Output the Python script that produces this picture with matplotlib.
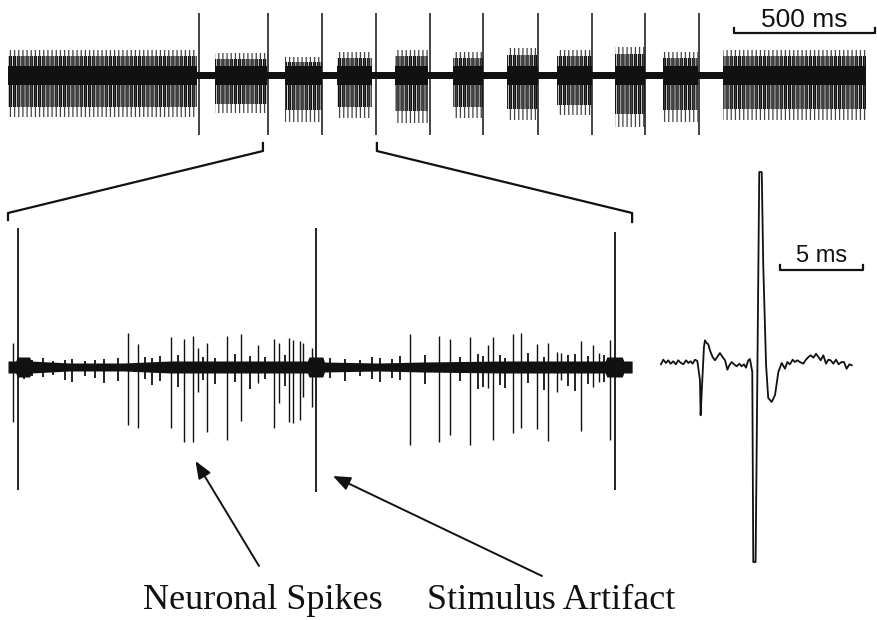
import numpy as np
import matplotlib
matplotlib.use("Agg")
import matplotlib.pyplot as plt

# ---- top trace (ms, arbitrary amplitude units) ----
top_artifact_t = [677, 922, 1113, 1305, 1496, 1684, 1879, 2071, 2259, 2450]
top_artifact_up = 62
top_artifact_down = -60
burst_start = [0, 734, 982, 1167, 1372, 1578, 1769, 1947, 2152, 2323, 2535]
burst_end = [670, 918, 1113, 1291, 1489, 1684, 1879, 2071, 2259, 2447, 3042]
burst_up = [25, 22, 18, 23, 25, 23, 27, 25, 28, 23, 25]
burst_down = [-42, -38, -47, -43, -48, -43, -45, -40, -52, -47, -45]
top_trace_end = 3042
zoom_window = (904, 1308)

# ---- zoomed trace (ms) ----
bot_artifact_t = [6.5, 199.6, 393.3]
bot_artifact_up = [139, 139, 135]
bot_artifact_down = [-123, -125, -123]
spike_t = [3.2, 77.8, 84.2, 105.6, 114.0, 119.9, 123.1, 129.0, 141.9, 151.0,
           162.0, 172.4, 175.6, 182.1, 184.7, 189.2, 191.2, 197.0, 260.5, 279.3,
           286.4, 299.4, 311.0, 314.3, 327.2, 332.4, 342.8, 349.9, 355.8, 358.3,
           371.3, 379.1, 383.0, 390.1]
spike_up = [24, 34, 23, 30, 28, 31, 19, 24, 31, 33,
            22, 28, 24, 29, 27, 26, 24, 19, 33, 31,
            28, 30, 22, 30, 33, 34, 23, 24, 15, 14,
            26, 22, 14, 27]
spike_down = [-55, -58, -61, -61, -75, -75, -25, -65, -73, -54,
              -16, -61, -36, -55, -56, -53, -30, -40, -78, -75,
              -68, -78, -21, -73, -66, -61, -62, -74, -25, -13,
              -64, -20, -15, -73]
minor_t = [10.4, 15.6, 22.7, 29.2, 36.9, 41.5, 49.9, 56.4, 62.2, 71.3,
           88.8, 93.3, 98.5, 110.2, 126.4, 134.1, 147.1, 156.8, 166.5, 179.5,
           208.7, 218.4, 228.1, 235.9, 241.1, 248.8, 254.0, 270.2, 292.9, 304.6,
           307.8, 318.8, 322.1, 337.0, 347.3, 362.9, 367.4, 375.8, 386.2]
minor_up = [8, 7, 9, 6, 7, 8, 6, 7, 8, 9,
            10, 9, 11, 12, 10, 9, 13, 11, 10, 12,
            9, 8, 7, 10, 9, 8, 11, 12, 10, 13,
            11, 12, 9, 14, 10, 12, 13, 11, 12]
minor_down = [-12, -9, -10, -8, -13, -15, -9, -11, -16, -14,
              -12, -18, -14, -20, -13, -17, -15, -22, -12, -19,
              -11, -14, -9, -12, -15, -11, -13, -17, -14, -22,
              -20, -18, -21, -16, -23, -19, -24, -17, -15]
env_t = [0, 5, 6, 14, 15, 40, 75, 105, 145, 194, 195, 204, 205, 240, 268, 320,
         387, 388, 398, 399, 404.4]
env_w = [6, 6, 10, 10, 6, 4, 4, 6, 6, 6, 10, 10, 5, 4, 5, 6,
         6, 10, 10, 6, 6]

# ---- single spike waveform (ms) ----
wave_t = [0.0, 0.14, 0.30, 0.44, 0.58, 0.74, 0.90, 1.04, 1.18, 1.35, 1.51, 1.65,
          1.79, 1.91, 2.05, 2.19, 2.27, 2.35, 2.39, 2.45, 2.51, 2.59, 2.65, 2.75,
          2.85, 2.95, 3.11, 3.25, 3.39, 3.55, 3.71, 3.86, 4.00, 4.12, 4.26, 4.40,
          4.56, 4.72, 4.86, 5.00, 5.12, 5.26, 5.36, 5.50, 5.56, 5.70, 5.92, 6.07,
          6.16, 6.33, 6.46, 6.67, 6.87, 7.07, 7.27, 7.47, 7.61, 7.77,
          7.93, 8.07, 8.21, 8.37, 8.57, 8.73, 8.88, 9.02, 9.18, 9.34, 9.48, 9.62,
          9.78, 9.94, 10.08, 10.22, 10.38, 10.54, 10.70, 10.88, 11.02, 11.18, 11.35, 11.49]
wave_v = [-2.3, 2.3, -1.0, 1.7, -1.7, 0.7, -2.3, 1.7, -0.7, -2.3, 1.7, -1.0,
          0.7, -1.7, 2.3, 1.0, -8.3, -18.3, -53.3, -31.7, -11.7, 15.0, 21.7, 19.0,
          17.7, 11.7, 5.0, 1.7, 5.0, 9.0, 5.0, 1.7, -7.7, -3.3, 0.0, -2.3,
          -4.3, -1.7, -4.3, -2.3, -5.7, 1.7, 3.0, -10.0, -200.0, -200.0, 190.0, 190.0,
          97.0, -3.0, -36.0, -40.0, -33.0, -10.0, -1.0, -6.7, 0.0, -2.3,
          2.3, 0.0, 1.7, 0.0, -1.7, 2.3, 5.0, 6.7, 4.3, 8.3, 5.0, 1.7,
          6.7, -1.7, 2.3, 1.7, -1.7, 2.3, -2.3, 0.0, 0.0, -6.7, -2.3, -3.3]

INK = '#111111'
W, H = 877, 620
plt.rcParams['hatch.linewidth'] = 0.9

fig = plt.figure(figsize=(W / 100, H / 100), dpi=100)


def px_axes(x0, y0, x1, y1):
    ax = fig.add_axes([x0 / W, 1 - y1 / H, (x1 - x0) / W, (y1 - y0) / H])
    ax.axis('off')
    return ax


# top trace
ax_top = px_axes(0, 5, 877, 145)
ax_top.set_xlim(-28.4, 3081.5)
ax_top.set_ylim(-70, 70)
ax_top.fill_between([0, top_trace_end], [-3.5, -3.5], [3.5, 3.5], color=INK, lw=0)
for s, e, u, d in zip(burst_start, burst_end, burst_up, burst_down):
    ax_top.fill_between([s, e], [d, d], [u, u], facecolor='none', edgecolor='#444444',
                        hatch='|' * 4, lw=0)
    ax_top.fill_between([s, e], [0.75 * d] * 2, [0.75 * u] * 2, facecolor='none',
                        edgecolor=INK, hatch='|' * 8, lw=0)
    ax_top.fill_between([s, e], [-10, -10], [9, 9], color=INK, lw=0)
ax_top.vlines(top_artifact_t, top_artifact_down, top_artifact_up, color=INK, lw=1.1)
# 500 ms scale bar
sb0 = 2574
ax_top.plot([sb0, sb0, sb0 + 500, sb0 + 500], [47, 42, 42, 47], color=INK, lw=1.6,
            clip_on=False)
ax_top.text(sb0 + 250, 48, '500 ms', ha='center', va='baseline', fontsize=19,
            family='Liberation Sans', color=INK)

# zoomed trace
ax_bot = px_axes(0, 215, 640, 500)
ax_bot.set_xlim(-5.18, 409.5)
ax_bot.set_ylim(-133, 152)
ax_bot.fill_between(env_t, [-w for w in env_w], env_w, color=INK, lw=0)
ax_bot.vlines(minor_t, minor_down, minor_up, color=INK, lw=1.3)
ax_bot.vlines(spike_t, spike_down, spike_up, color=INK, lw=1.0)
ax_bot.vlines(bot_artifact_t, bot_artifact_down, bot_artifact_up, color=INK, lw=1.3)

# single waveform
ax_w = px_axes(645, 160, 877, 570)
ax_w.set_xlim(-0.96, 13.01)
ax_w.set_ylim(-208, 202)
ax_w.plot(wave_t, wave_v, color=INK, lw=1.3)
ax_w.plot([7.17, 7.17, 12.17, 12.17], [97, 92, 92, 97], color=INK, lw=1.6)
ax_w.text(9.67, 100, '5 ms', ha='center', va='baseline', fontsize=17,
          family='Liberation Sans', color=INK)

# overlay in pixel coordinates for brackets / arrows / labels
ax_o = fig.add_axes([0, 0, 1, 1])
ax_o.set_xlim(0, W)
ax_o.set_ylim(H, 0)
ax_o.axis('off')


def to_px(ax, x, y):
    return ax_o.transData.inverted().transform(ax.transData.transform((x, y)))


xl = to_px(ax_top, zoom_window[0], 0)[0]
xr = to_px(ax_top, zoom_window[1], 0)[0]
bl = to_px(ax_bot, 0, 0)[0]
br = to_px(ax_bot, 404.4, 0)[0]
ax_o.plot([xl, xl, bl, bl], [143, 151, 213, 220], color=INK, lw=1.6)
ax_o.plot([xr, xr, br, br], [143, 151, 213, 222], color=INK, lw=1.6)

arrow = dict(arrowstyle='-|>,head_length=0.7,head_width=0.28', color=INK, lw=1.4,
             mutation_scale=15, shrinkA=0, shrinkB=0)
ax_o.annotate('', xy=to_px(ax_bot, 121.5, -94), xytext=(259, 566), arrowprops=arrow)
ax_o.annotate('', xy=to_px(ax_bot, 210.5, -109), xytext=(542, 576), arrowprops=arrow)

ax_o.text(143, 609, 'Neuronal Spikes', ha='left', va='baseline', fontsize=26,
          family='Liberation Serif', color=INK)
ax_o.text(427, 609, 'Stimulus Artifact', ha='left', va='baseline', fontsize=26,
          family='Liberation Serif', color=INK)

fig.savefig('out.png', dpi=100, facecolor='white')
